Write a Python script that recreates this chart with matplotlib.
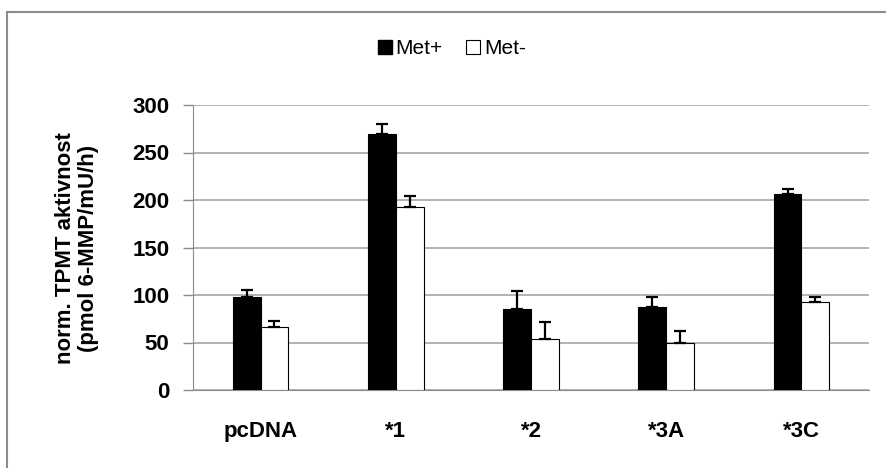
import numpy as np
import matplotlib
matplotlib.use("Agg")
import matplotlib.pyplot as plt
from matplotlib.lines import Line2D

plt.rcParams['font.family'] = ['Liberation Sans', 'DejaVu Sans']

# data
groups = ['pcDNA', '*1', '*2', '*3A', '*3C']
met_plus = [98, 269, 85, 87, 206]
met_plus_err = [7, 11, 19, 11, 6]
met_minus = [66, 193, 54, 50, 93]
met_minus_err = [7, 11, 18, 12, 5]
yticks = [0, 50, 100, 150, 200, 250, 300]

fig = plt.figure(figsize=(8.87, 4.68), dpi=100)
ax = fig.add_axes([193/887, 78/468, 676/887, 285/468])

# outer frame (only left and top edges visible)
fig.lines.append(Line2D([7/887, 7/887], [0, 1 - 12/468], transform=fig.transFigure,
                        color='#8c8c8c', linewidth=1.5))
fig.lines.append(Line2D([7/887, 1], [1 - 12/468, 1 - 12/468], transform=fig.transFigure,
                        color='#8c8c8c', linewidth=1.5))

x = np.arange(len(groups))
w = 0.205
ax.bar(x - w/2, met_plus, w, color='black', edgecolor='black', linewidth=0.8, zorder=3,
       yerr=[np.zeros(len(groups)), met_plus_err], capsize=4,
       error_kw=dict(ecolor='black', elinewidth=1.6, capthick=1.6))
ax.bar(x + w/2, met_minus, w, color='white', edgecolor='black', linewidth=0.8, zorder=3,
       yerr=[np.zeros(len(groups)), met_minus_err], capsize=4,
       error_kw=dict(ecolor='black', elinewidth=1.6, capthick=1.6))

ax.set_xlim(-0.5, len(groups) - 0.5)
ax.set_ylim(0, 300)
ax.set_yticks(yticks)
ax.set_xticks(x)
ax.set_xticklabels(groups, fontsize=16, fontweight='bold')
ax.tick_params(axis='x', length=0, pad=22)
ax.tick_params(axis='y', length=7, width=1, color='#8c8c8c', pad=10, labelsize=16)
for lab in ax.get_yticklabels():
    lab.set_fontweight('bold')
ax.grid(axis='y', color='#a6a6a6', linewidth=1.2, zorder=0)
ax.set_axisbelow(True)
for s in ['top', 'right']:
    ax.spines[s].set_visible(False)
ax.spines['left'].set_color('#8c8c8c')
ax.spines['bottom'].set_color('#8c8c8c')

fig.text(77/887, 1 - 248/468, 'norm. TPMT aktivnost\n(pmol 6-MMP/mU/h)', rotation=90,
         ha='center', va='center', multialignment='center', fontsize=16, fontweight='bold',
         linespacing=1.1)

handles = [Line2D([], [], marker='s', linestyle='none', markersize=10, markerfacecolor='black',
                  markeredgecolor='black'),
           Line2D([], [], marker='s', linestyle='none', markersize=10, markerfacecolor='white',
                  markeredgecolor='black', markeredgewidth=0.8)]
fig.legend(handles, ['Met+', 'Met-'], loc='center', bbox_to_anchor=(450/887, 1 - 49/468),
           ncol=2, frameon=False, fontsize=15, handletextpad=0.0, columnspacing=1.0,
           handlelength=1.0)

fig.savefig('out.png', dpi=100)
